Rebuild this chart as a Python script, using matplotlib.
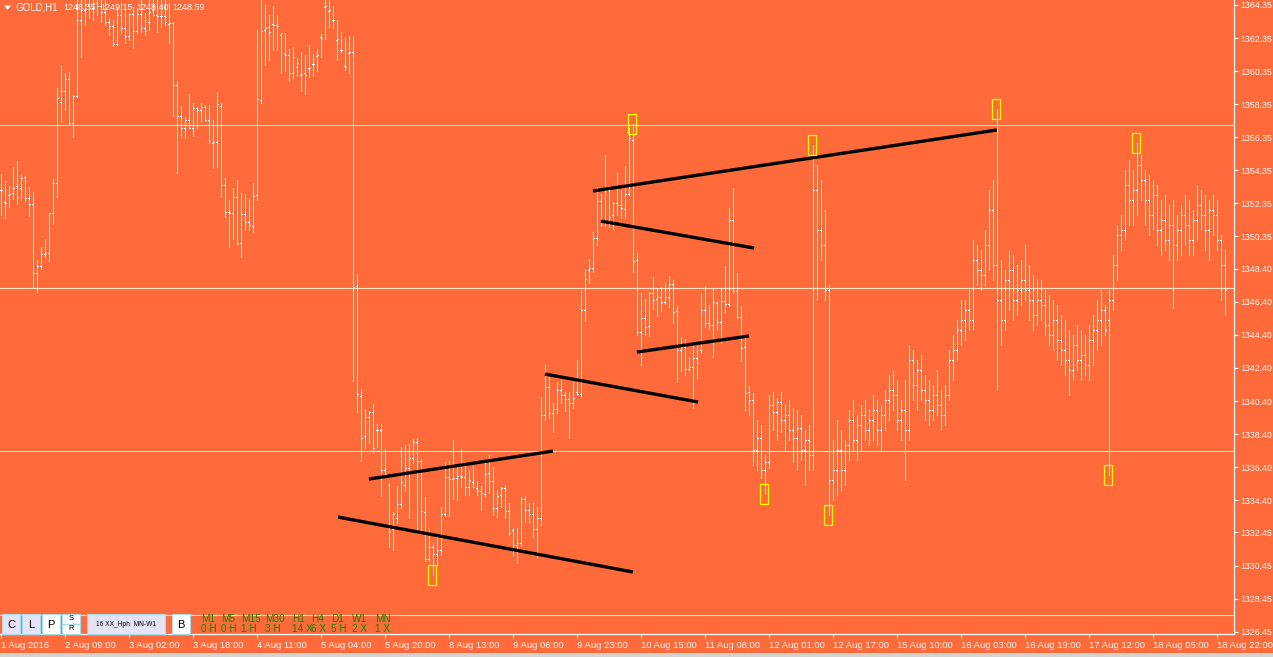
import matplotlib
matplotlib.use("Agg")
import matplotlib.pyplot as plt
from matplotlib.patches import Rectangle, Polygon

# ---------------- data (GOLD, H1) ----------------
opens = [
 1353.15, 1352.43, 1352.85, 1352.97, 1353.40, 1353.28, 1353.94, 1352.67, 1352.31, 1348.13,
 1348.56, 1349.28, 1349.34, 1351.76, 1353.58, 1358.48, 1359.14, 1359.87, 1357.21, 1358.84,
 1363.44, 1364.05, 1364.35, 1364.17, 1364.47, 1364.29, 1363.92, 1363.32, 1363.08, 1361.99,
 1363.74, 1362.96, 1362.47, 1363.80, 1362.77, 1363.80, 1362.96, 1363.32, 1364.05, 1363.74,
 1363.68, 1363.68, 1363.20, 1363.26, 1359.51, 1357.63, 1356.91, 1357.39, 1356.91, 1358.12,
 1358.00, 1358.18, 1357.39, 1356.00, 1356.06, 1358.24, 1353.46, 1351.82, 1351.76, 1352.73,
 1349.95, 1351.70, 1351.22, 1350.98, 1352.85, 1358.60, 1362.83, 1363.02, 1363.20, 1363.14,
 1362.53, 1361.38, 1361.32, 1360.23, 1360.60, 1360.11, 1360.23, 1360.54, 1360.78, 1361.26,
 1362.41, 1364.23, 1363.98, 1363.44, 1362.23, 1361.62, 1360.66, 1361.44, 1361.50, 1347.35,
 1340.69, 1338.27, 1339.42, 1339.72, 1338.63, 1338.63, 1336.21, 1335.31, 1332.65, 1333.31,
 1334.16, 1335.31, 1336.34, 1336.94, 1337.91, 1336.76, 1333.67, 1330.83, 1331.56, 1331.13,
 1331.37, 1333.55, 1335.79, 1335.67, 1335.73, 1335.85, 1335.79, 1335.19, 1335.49, 1335.13,
 1334.94, 1334.76, 1336.03, 1335.55, 1333.92, 1334.70, 1335.13, 1333.73, 1332.58, 1331.68,
 1331.80, 1334.46, 1333.79, 1333.55, 1332.65, 1333.31, 1339.54, 1341.24, 1339.66, 1339.91,
 1341.05, 1340.75, 1340.51, 1340.27, 1340.93, 1340.81, 1345.89, 1348.31, 1348.44, 1350.25,
 1352.49, 1351.22, 1353.15, 1351.64, 1352.37, 1352.25, 1352.01, 1352.91, 1356.18, 1348.92,
 1344.56, 1345.41, 1344.93, 1346.92, 1346.56, 1346.68, 1346.38, 1346.68, 1347.47, 1345.83,
 1343.47, 1343.66, 1342.33, 1342.45, 1342.99, 1343.47, 1345.89, 1345.11, 1344.99, 1346.32,
 1345.17, 1346.44, 1346.26, 1351.34, 1347.04, 1345.47, 1343.66, 1340.93, 1340.45, 1337.42,
 1338.15, 1336.21, 1336.70, 1340.15, 1339.72, 1340.33, 1339.24, 1339.54, 1338.63, 1338.15,
 1338.76, 1337.43, 1338.03, 1337.12, 1353.15, 1350.73, 1349.83, 1347.11, 1335.61, 1336.21,
 1337.43, 1336.21, 1337.73, 1339.24, 1338.03, 1338.94, 1339.54, 1338.63, 1339.24, 1339.85,
 1338.63, 1339.54, 1340.45, 1341.06, 1340.75, 1339.24, 1339.85, 1338.63, 1342.87, 1341.36,
 1342.27, 1341.06, 1340.45, 1339.85, 1340.75, 1340.15, 1339.54, 1340.75, 1342.87, 1343.48,
 1344.69, 1345.29, 1345.90, 1345.29, 1348.92, 1348.32, 1348.01, 1349.83, 1351.95, 1348.62,
 1346.50, 1345.29, 1347.71, 1348.32, 1346.50, 1347.11, 1347.71, 1347.11, 1346.50, 1345.59,
 1346.50, 1346.20, 1344.99, 1344.38, 1345.29, 1344.08, 1343.48, 1342.87, 1342.27, 1343.78,
 1342.87, 1343.17, 1342.57, 1344.08, 1344.69, 1345.29, 1345.90, 1345.29, 1346.50, 1348.62,
 1350.43, 1350.73, 1353.46, 1352.55, 1353.15, 1354.67, 1353.76, 1352.55, 1351.64, 1352.85,
 1350.73, 1351.34, 1350.13, 1351.04, 1349.83, 1350.73, 1351.64, 1351.04, 1350.13, 1351.34,
 1352.25, 1351.64, 1350.73, 1351.95, 1351.64, 1350.13, 1348.62]

highs = [
 1354.12, 1353.70, 1353.40, 1354.55, 1354.91, 1354.12, 1354.00, 1353.34, 1353.03, 1348.92,
 1349.71, 1350.19, 1351.76, 1353.82, 1359.33, 1360.72, 1360.23, 1360.29, 1358.90, 1365.13,
 1365.26, 1365.26, 1365.38, 1365.26, 1365.38, 1365.26, 1364.95, 1363.56, 1363.44, 1364.23,
 1364.47, 1364.23, 1363.86, 1364.23, 1364.17, 1364.65, 1363.86, 1364.77, 1364.83, 1364.95,
 1364.77, 1364.65, 1364.47, 1363.32, 1359.75, 1358.24, 1357.57, 1358.96, 1358.42, 1358.18,
 1358.42, 1358.30, 1358.30, 1357.39, 1359.08, 1358.42, 1353.88, 1352.55, 1353.28, 1353.76,
 1352.97, 1352.91, 1352.61, 1353.58, 1362.83, 1364.95, 1364.35, 1363.74, 1364.29, 1363.74,
 1362.65, 1362.65, 1361.69, 1361.81, 1361.14, 1361.50, 1361.32, 1361.93, 1361.38, 1361.69,
 1362.59, 1364.95, 1364.95, 1364.29, 1363.44, 1362.71, 1362.35, 1362.47, 1362.47, 1348.07,
 1341.12, 1339.91, 1339.78, 1340.21, 1339.00, 1339.00, 1337.49, 1335.43, 1333.67, 1335.25,
 1337.61, 1337.73, 1337.79, 1338.09, 1338.15, 1336.88, 1334.58, 1332.65, 1331.80, 1332.22,
 1333.98, 1336.70, 1336.76, 1338.03, 1336.46, 1337.49, 1336.70, 1336.21, 1336.46, 1335.55,
 1335.25, 1336.64, 1337.12, 1336.40, 1335.00, 1335.19, 1335.31, 1334.22, 1332.71, 1332.71,
 1334.58, 1334.64, 1334.22, 1334.22, 1333.98, 1340.63, 1342.57, 1341.84, 1340.27, 1341.54,
 1341.66, 1340.93, 1340.93, 1341.54, 1342.87, 1347.04, 1348.38, 1348.98, 1350.61, 1353.34,
 1352.91, 1355.27, 1353.40, 1352.43, 1354.18, 1353.15, 1354.61, 1356.91, 1357.15, 1349.34,
 1346.92, 1346.56, 1346.98, 1347.89, 1347.23, 1347.29, 1347.53, 1347.95, 1347.71, 1346.14,
 1344.26, 1344.14, 1343.05, 1343.90, 1343.72, 1346.92, 1347.35, 1346.20, 1347.17, 1346.44,
 1347.23, 1348.56, 1352.07, 1353.28, 1348.13, 1346.14, 1344.26, 1341.30, 1340.87, 1339.24,
 1338.94, 1337.12, 1340.75, 1340.93, 1340.57, 1340.93, 1340.15, 1340.45, 1339.97, 1339.85,
 1339.54, 1338.63, 1338.94, 1355.88, 1354.67, 1353.76, 1351.95, 1347.41, 1338.03, 1339.24,
 1338.63, 1338.03, 1339.85, 1340.45, 1339.54, 1340.15, 1340.45, 1339.85, 1340.75, 1340.45,
 1340.15, 1341.06, 1341.96, 1342.27, 1341.66, 1340.45, 1341.66, 1343.78, 1343.48, 1342.87,
 1343.17, 1341.96, 1341.66, 1341.36, 1342.27, 1341.06, 1341.36, 1343.48, 1344.38, 1345.29,
 1346.50, 1346.50, 1347.11, 1350.13, 1349.83, 1349.52, 1350.73, 1353.15, 1353.76, 1358.06,
 1348.92, 1348.32, 1349.52, 1349.22, 1348.62, 1348.92, 1349.83, 1348.62, 1348.01, 1347.71,
 1347.71, 1347.11, 1346.80, 1346.50, 1346.20, 1345.59, 1345.29, 1344.69, 1344.38, 1344.99,
 1344.69, 1344.38, 1344.99, 1345.59, 1346.50, 1347.11, 1346.20, 1347.11, 1349.22, 1351.04,
 1351.64, 1354.37, 1354.97, 1354.37, 1356.00, 1355.27, 1354.37, 1354.06, 1353.76, 1353.46,
 1352.55, 1352.85, 1352.25, 1352.55, 1351.64, 1352.25, 1352.85, 1352.55, 1351.95, 1353.46,
 1353.15, 1352.85, 1352.55, 1352.85, 1352.55, 1350.43, 1349.52]

lows = [
 1351.64, 1351.46, 1352.13, 1352.61, 1352.31, 1352.55, 1352.49, 1351.58, 1347.29, 1346.98,
 1348.38, 1349.10, 1348.86, 1351.10, 1352.73, 1357.27, 1357.99, 1357.15, 1356.36, 1358.78,
 1361.20, 1363.14, 1363.56, 1363.44, 1363.74, 1363.32, 1363.14, 1362.53, 1361.87, 1361.93,
 1362.65, 1362.05, 1362.23, 1361.75, 1362.65, 1362.71, 1362.53, 1362.83, 1363.68, 1362.71,
 1363.02, 1363.14, 1362.05, 1357.63, 1354.18, 1356.30, 1356.30, 1356.91, 1356.42, 1356.91,
 1357.33, 1357.33, 1356.00, 1354.49, 1354.55, 1352.73, 1351.52, 1349.71, 1350.19, 1349.83,
 1349.10, 1350.73, 1350.73, 1350.61, 1352.55, 1358.42, 1360.72, 1361.02, 1361.62, 1361.62,
 1360.23, 1360.35, 1359.75, 1359.93, 1360.05, 1359.14, 1358.96, 1359.99, 1360.05, 1360.35,
 1361.20, 1362.29, 1363.02, 1362.96, 1361.02, 1361.50, 1360.41, 1360.23, 1341.60, 1339.72,
 1336.76, 1337.55, 1337.85, 1337.24, 1337.61, 1334.64, 1335.97, 1331.56, 1331.37, 1333.01,
 1333.92, 1334.94, 1333.31, 1336.64, 1332.52, 1332.52, 1330.71, 1330.71, 1329.86, 1330.47,
 1331.07, 1333.43, 1333.43, 1334.46, 1334.40, 1335.19, 1334.70, 1334.70, 1335.13, 1334.70,
 1333.79, 1334.58, 1334.82, 1333.49, 1333.37, 1333.98, 1333.31, 1332.28, 1331.01, 1330.59,
 1331.62, 1333.07, 1333.07, 1332.16, 1330.89, 1332.89, 1339.24, 1339.36, 1338.51, 1339.66,
 1340.27, 1339.78, 1338.15, 1339.97, 1340.75, 1340.63, 1345.23, 1347.53, 1348.19, 1349.83,
 1350.98, 1350.98, 1350.92, 1350.80, 1351.64, 1351.46, 1351.46, 1352.85, 1348.19, 1344.38,
 1342.57, 1344.38, 1344.32, 1345.96, 1345.53, 1345.83, 1346.26, 1346.08, 1345.11, 1341.54,
 1342.20, 1341.96, 1342.20, 1339.97, 1341.78, 1343.29, 1344.87, 1344.75, 1343.05, 1344.68,
 1343.90, 1345.71, 1346.14, 1346.92, 1345.41, 1342.81, 1339.84, 1339.54, 1336.52, 1336.21,
 1335.73, 1334.76, 1336.34, 1338.63, 1338.03, 1338.51, 1337.43, 1338.03, 1336.70, 1336.21,
 1336.82, 1335.31, 1336.21, 1336.21, 1346.50, 1348.92, 1346.50, 1333.49, 1334.40, 1334.70,
 1335.00, 1335.31, 1336.82, 1337.43, 1336.82, 1337.43, 1338.03, 1337.73, 1338.03, 1337.73,
 1337.43, 1338.63, 1339.24, 1339.85, 1338.63, 1338.03, 1335.61, 1338.03, 1340.45, 1339.85,
 1340.45, 1339.24, 1338.94, 1339.24, 1339.54, 1338.63, 1338.94, 1340.45, 1341.66, 1342.87,
 1343.78, 1344.08, 1344.69, 1344.69, 1347.41, 1347.11, 1347.41, 1348.32, 1347.71, 1341.06,
 1343.78, 1344.69, 1345.90, 1345.29, 1345.59, 1346.20, 1346.50, 1345.29, 1344.69, 1344.99,
 1345.29, 1344.38, 1343.78, 1343.48, 1342.87, 1342.57, 1341.96, 1340.75, 1341.66, 1342.27,
 1341.66, 1341.96, 1341.66, 1342.57, 1343.48, 1343.78, 1344.38, 1335.91, 1345.90, 1347.71,
 1349.52, 1350.13, 1351.04, 1351.04, 1351.64, 1352.55, 1351.04, 1350.43, 1350.73, 1349.83,
 1349.22, 1349.52, 1348.92, 1346.02, 1348.92, 1349.22, 1349.83, 1349.22, 1349.22, 1350.13,
 1350.73, 1349.52, 1348.92, 1350.43, 1349.52, 1346.50, 1345.59]

closes = [
 1353.15, 1352.37, 1352.91, 1353.28, 1352.73, 1353.88, 1352.67, 1352.31, 1348.13, 1348.56,
 1349.28, 1349.34, 1351.76, 1353.58, 1358.72, 1359.14, 1359.87, 1357.21, 1358.84, 1363.44,
 1364.05, 1364.35, 1364.17, 1364.47, 1364.29, 1363.92, 1363.32, 1363.08, 1361.99, 1363.74,
 1362.96, 1362.47, 1363.80, 1362.77, 1363.80, 1362.96, 1362.77, 1363.92, 1363.74, 1363.68,
 1363.68, 1363.32, 1363.26, 1359.51, 1357.63, 1356.91, 1357.39, 1356.91, 1358.12, 1358.00,
 1358.18, 1357.39, 1356.12, 1356.06, 1358.36, 1353.46, 1351.82, 1351.76, 1352.73, 1349.95,
 1351.70, 1351.22, 1351.04, 1352.79, 1358.66, 1362.77, 1362.96, 1362.71, 1363.14, 1363.08,
 1362.65, 1361.32, 1360.23, 1361.20, 1360.84, 1360.17, 1360.11, 1360.54, 1360.78, 1361.32,
 1362.35, 1364.29, 1364.05, 1363.44, 1362.29, 1361.62, 1360.60, 1361.50, 1347.29, 1340.81,
 1338.15, 1339.42, 1339.72, 1337.55, 1338.63, 1336.21, 1335.97, 1332.52, 1333.55, 1334.16,
 1335.49, 1336.34, 1336.94, 1337.91, 1336.76, 1333.73, 1330.83, 1331.56, 1331.13, 1331.37,
 1333.55, 1335.79, 1335.67, 1335.73, 1335.85, 1335.79, 1335.19, 1335.61, 1335.19, 1334.94,
 1334.82, 1335.97, 1335.55, 1333.92, 1334.64, 1335.13, 1333.73, 1332.40, 1331.68, 1331.80,
 1334.46, 1333.79, 1333.55, 1332.65, 1333.31, 1339.54, 1341.24, 1339.66, 1339.91, 1341.05,
 1340.75, 1340.51, 1340.27, 1340.57, 1340.81, 1345.89, 1347.77, 1348.44, 1350.25, 1352.49,
 1351.04, 1353.15, 1351.52, 1352.37, 1352.25, 1352.07, 1352.91, 1356.30, 1348.86, 1344.56,
 1345.41, 1344.87, 1346.92, 1346.50, 1346.68, 1346.38, 1346.68, 1347.47, 1345.77, 1343.47,
 1343.66, 1342.33, 1342.45, 1342.99, 1342.69, 1345.89, 1345.11, 1344.99, 1346.38, 1345.17,
 1346.44, 1346.26, 1351.34, 1347.04, 1345.47, 1343.60, 1340.87, 1340.45, 1337.42, 1338.15,
 1336.21, 1336.70, 1340.15, 1339.72, 1340.33, 1339.24, 1339.54, 1338.63, 1338.15, 1338.76,
 1337.43, 1338.03, 1337.12, 1353.15, 1350.73, 1349.83, 1347.11, 1335.61, 1336.21, 1337.43,
 1336.21, 1337.73, 1339.24, 1338.03, 1338.94, 1339.54, 1338.63, 1339.24, 1339.85, 1338.63,
 1339.54, 1340.45, 1341.06, 1340.75, 1339.24, 1339.85, 1338.63, 1342.87, 1341.36, 1342.27,
 1341.06, 1340.45, 1339.85, 1340.75, 1340.15, 1339.54, 1340.75, 1342.87, 1343.48, 1344.69,
 1345.29, 1345.90, 1345.29, 1348.92, 1348.32, 1348.01, 1349.83, 1351.95, 1348.62, 1346.50,
 1345.29, 1347.71, 1348.32, 1346.50, 1347.11, 1347.71, 1347.11, 1346.50, 1345.59, 1346.50,
 1346.20, 1344.99, 1344.38, 1345.29, 1344.08, 1343.48, 1342.87, 1342.27, 1343.78, 1342.87,
 1343.17, 1342.57, 1344.08, 1344.69, 1345.29, 1345.90, 1344.69, 1346.50, 1348.62, 1350.43,
 1350.73, 1353.46, 1352.55, 1353.15, 1354.67, 1353.76, 1352.55, 1351.64, 1352.85, 1350.73,
 1351.34, 1350.13, 1351.04, 1349.83, 1350.73, 1351.64, 1351.04, 1350.13, 1351.34, 1352.25,
 1351.64, 1350.73, 1351.95, 1351.64, 1350.13, 1348.62, 1347.11]

# trend lines: (bar index, price) start -> end
trend_x0 = [84.2, 91.9, 135.9, 147.9, 149.9, 158.9]
trend_p0 = [1333.38, 1335.68, 1342.03, 1353.10, 1351.28, 1343.36]
trend_x1 = [157.9, 137.9, 174.2, 248.9, 188.2, 186.9]
trend_p1 = [1330.06, 1337.37, 1340.34, 1356.79, 1349.65, 1344.33]

# horizontal levels
levels = [1357.09, 1347.23, 1337.36, 1327.44]

# marked bars (yellow boxes)
mark_bars = [108, 158, 191, 203, 207, 249, 277, 284]
mark_side = ['low', 'high', 'low', 'high', 'low', 'high', 'low', 'high']

# axis labels
ytick_vals = [1364.35, 1362.35, 1360.35, 1358.35, 1356.35, 1354.35, 1352.35, 1350.35,
              1348.40, 1346.40, 1344.40, 1342.40, 1340.40, 1338.40, 1336.40, 1334.40,
              1332.45, 1330.45, 1328.45, 1326.45]
xtick_labels = ["1 Aug 2016", "2 Aug 09:00", "3 Aug 02:00", "3 Aug 18:00", "4 Aug 11:00",
                "5 Aug 04:00", "5 Aug 20:00", "8 Aug 13:00", "9 Aug 06:00", "9 Aug 23:00",
                "10 Aug 15:00", "11 Aug 08:00", "12 Aug 01:00", "12 Aug 17:00", "15 Aug 10:00",
                "16 Aug 03:00", "16 Aug 19:00", "17 Aug 12:00", "18 Aug 05:00", "18 Aug 22:00"]
xtick_step = 16

header_symbol = "GOLD,H1"
header_vals = ["1248.35", "1249.15", "1248.40", "1248.59"]
tf_names = ["M1", "M5", "M15", "M30", "H1", "H4", "D1", "W1", "MN"]
tf_vals = ["0 H", "0 H", "1 H", "3 H", "14 X", "6 X", "5 H", "2 X", "1 X"]

# ---------------- drawing ----------------
W, H = 1273, 657
ORANGE = '#FF6A3A'
FONT = 'Liberation Sans'

fig = plt.figure(figsize=(W / 100, H / 100), dpi=100, facecolor=ORANGE)
plot_right, plot_bottom = 1234, 634
ax = fig.add_axes([0, 1 - plot_bottom / H, plot_right / W, plot_bottom / H])
ax.set_facecolor(ORANGE)

n = min(len(opens), len(highs), len(lows), len(closes))
idx = list(range(n))
PX = 0.25  # one pixel in bar units (4 px per bar)

ax.set_xlim(-1.3 * PX, (plot_right - 1.3) * PX)
ax.set_ylim(1326.31, 1364.65)

for lv in levels:
    ax.axhline(lv, color='#FFE2BC', lw=0.8, zorder=1)

LW = 0.62
ax.vlines(idx, lows[:n], highs[:n], color='white', lw=LW, antialiased=False,
          capstyle='butt', zorder=3)
ax.hlines(opens[:n], [i - PX for i in idx], idx, color='white', lw=LW,
          antialiased=False, capstyle='butt', zorder=3)
ax.hlines(closes[:n], idx, [i + PX for i in idx], color='white', lw=LW,
          antialiased=False, capstyle='butt', zorder=3)

for x0, p0, x1, p1 in zip(trend_x0, trend_p0, trend_x1, trend_p1):
    ax.plot([x0, x1], [p0, p1], color='black', lw=2.4, solid_capstyle='butt', zorder=4)

ppx = (1364.65 - 1326.31) / plot_bottom
for b, s in zip(mark_bars, mark_side):
    p = lows[b] if s == 'low' else highs[b]
    ax.add_patch(Rectangle((b - 1.3 * PX - 4 * PX, p - 10 * ppx), 8 * PX, 20 * ppx,
                           fill=False, edgecolor='#FFFF00', lw=0.9, zorder=5))

for side in ['left', 'top']:
    ax.spines[side].set_visible(False)
for side in ['right', 'bottom']:
    ax.spines[side].set_color('white')
    ax.spines[side].set_linewidth(0.9)

ax.yaxis.tick_right()
ax.set_yticks(ytick_vals)
ax.set_yticklabels([f"{v:.2f}" for v in ytick_vals], fontfamily=FONT)
ax.tick_params(axis='y', colors='white', labelcolor='white', length=3, width=0.8,
               labelsize=6.3, pad=1.8)

xt = [k * xtick_step for k in range(len(xtick_labels))]
ax.set_xticks(xt)
ax.set_xticklabels(xtick_labels, fontfamily=FONT, ha='left')
ax.tick_params(axis='x', colors='white', labelcolor='white', length=3, width=0.8,
               labelsize=6.8, pad=2)

# ---------------- overlay (terminal UI elements) ----------------
ov = fig.add_axes([0, 0, 1, 1], zorder=10)
ov.set_xlim(0, W)
ov.set_ylim(H, 0)
ov.axis('off')
ov.patch.set_alpha(0)

ov.add_patch(Rectangle((0, 653), W, 4, color='#D6D3CE', lw=0))

# header
ov.add_patch(Polygon([(4, 5.5), (11, 5.5), (7.5, 10)], closed=True, color='white', lw=0))
ov.text(16, 8, header_symbol, color='white', fontsize=7.0, fontfamily=FONT, va='center')
for xx, t in zip([63, 100, 136, 172], header_vals):
    ov.text(xx, 8, t, color='white', fontsize=6.5, fontfamily=FONT, va='center')

# buttons
LAV = '#E4E4F6'
BORDER = '#A9DCEB'
btns = [(2, 18, 'C', LAV, 8), (22, 18, 'L', LAV, 8), (42, 18, 'P', 'white', 8),
        (172, 18, 'B', 'white', 8)]
for x0, w, t, fc, fs in btns:
    ov.add_patch(Rectangle((x0, 614), w, 20, facecolor=fc, edgecolor=BORDER, lw=0.8))
    ov.text(x0 + w / 2, 624.5, t, ha='center', va='center', fontsize=fs,
            fontfamily=FONT, color='black')
ov.add_patch(Rectangle((62, 614), 18, 20, facecolor='white', edgecolor=BORDER, lw=0.8))
ov.plot([62, 80], [624, 624], color=BORDER, lw=1.0)
ov.text(71, 619, 'S', ha='center', va='center', fontsize=5.5, fontfamily=FONT, color='black')
ov.text(71, 629, 'R', ha='center', va='center', fontsize=5.5, fontfamily=FONT, color='black')
ov.add_patch(Rectangle((87, 614), 78, 20, facecolor=LAV, edgecolor=BORDER, lw=0.8))
ov.text(126, 624.5, '16 XX_Hph  MN-W1', ha='center', va='center', fontsize=4.8,
        fontfamily=FONT, color='black')

# timeframe table
GREEN = '#008C00'
tf_x = [201, 221, 241, 265, 292, 311, 331, 352, 375]
for xx, a, b in zip(tf_x, tf_names, tf_vals):
    ov.text(xx, 619, a, color=GREEN, fontsize=7.2, fontfamily=FONT, va='center')
    ov.text(xx, 628.5, b, color=GREEN, fontsize=7.2, fontfamily=FONT, va='center')

fig.savefig('out.png', dpi=100, facecolor=ORANGE)
